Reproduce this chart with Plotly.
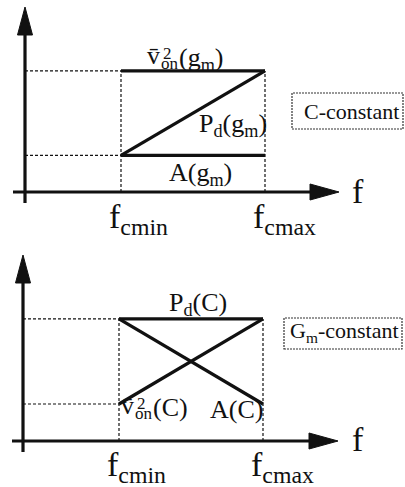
import plotly.graph_objects as go

W, H = 405, 487

# Frequency values (arbitrary units): f_cmin and f_cmax
f_bounds = [2.0, 5.0]
f_tick_labels = ["f<sub>cmin</sub>", "f<sub>cmax</sub>"]

# Normalised levels of the quantities
level_low, level_high = 1.0, 3.3

# C-constant design: noise flat, power rising, area flat
c_noise = [level_high, level_high]
c_power = [level_low, level_high]
c_area = [level_low, level_low]

# Gm-constant design: power flat, noise rising, area falling
g_power = [level_high, level_high]
g_noise = [level_low, level_high]
g_area = [level_high, level_low]

FONT = "Liberation Serif, Times New Roman, serif"
INK = "#111111"

# Panel geometry in pixels: vertical band, axis origin and scale
panels = [
    dict(top=0, bottom=240, ox=25, sx=48.0, oy=192, sy=36.7,
         x_tail=13, x_tip=339, y_tail=203, y_tip=7),
    dict(top=240, bottom=487, ox=23, sx=48.0, oy=441, sy=37.0,
         x_tail=12, x_tip=338, y_tail=452, y_tip=255),
]


def dx(p, px):
    return (px - p["ox"]) / p["sx"]


def dy(p, py):
    return (p["oy"] - py) / p["sy"]


fig = go.Figure()
layout_axes = {}
shapes = []
annotations = []

for i, p in enumerate(panels):
    n = "" if i == 0 else str(i + 1)
    xa, ya = "x" + n, "y" + n
    layout_axes["xaxis" + n] = dict(
        domain=[0, 1], anchor=ya, visible=False, fixedrange=True,
        range=[dx(p, 0), dx(p, W)])
    layout_axes["yaxis" + n] = dict(
        domain=[1 - p["bottom"] / H, 1 - p["top"] / H], anchor=xa,
        visible=False, fixedrange=True,
        range=[dy(p, p["bottom"]), dy(p, p["top"])])

    guide = dict(color=INK, width=1.2, dash="3px,2px")
    # horizontal projections to the vertical axis
    for lv in (level_low, level_high):
        fig.add_trace(go.Scatter(x=[0, f_bounds[0]], y=[lv, lv], mode="lines",
                                 line=guide, xaxis=xa, yaxis=ya,
                                 hoverinfo="skip", showlegend=False))
    # vertical projections to the frequency axis
    for fv in f_bounds:
        fig.add_trace(go.Scatter(x=[fv, fv], y=[0, level_high], mode="lines",
                                 line=guide, xaxis=xa, yaxis=ya,
                                 hoverinfo="skip", showlegend=False))

    series = [c_noise, c_power, c_area] if i == 0 else [g_power, g_noise, g_area]
    for ys in series:
        fig.add_trace(go.Scatter(x=f_bounds, y=ys, mode="lines",
                                 line=dict(color=INK, width=3.2),
                                 xaxis=xa, yaxis=ya,
                                 hoverinfo="skip", showlegend=False))

    # axes with filled arrowheads
    axis_line = dict(color=INK, width=3.2)
    shapes.append(dict(type="line", xref=xa, yref=ya, layer="above",
                       x0=dx(p, p["x_tail"]), x1=dx(p, p["x_tip"] - 20),
                       y0=0, y1=0, line=axis_line))
    shapes.append(dict(type="line", xref=xa, yref=ya, layer="above",
                       x0=0, x1=0, y0=dy(p, p["y_tail"]),
                       y1=dy(p, p["y_tip"] + 20), line=axis_line))
    shapes.append(dict(type="path", xref=xa, yref=ya, layer="above",
                       xsizemode="pixel", ysizemode="pixel",
                       xanchor=dx(p, p["x_tip"]), yanchor=0,
                       path="M 0 0 L -29 8 L -29 -8 Z",
                       fillcolor=INK, line=dict(color=INK, width=1)))
    shapes.append(dict(type="path", xref=xa, yref=ya, layer="above",
                       xsizemode="pixel", ysizemode="pixel",
                       xanchor=0, yanchor=dy(p, p["y_tip"]),
                       path="M 0 0 L -7.5 -28 L 7.5 -28 Z",
                       fillcolor=INK, line=dict(color=INK, width=1)))


def label(i, text, px, baseline, size):
    """Place text with its left edge at px and its baseline at the given pixel row."""
    p = panels[i]
    n = "" if i == 0 else str(i + 1)
    top = baseline - 0.891 * size - 1
    annotations.append(dict(
        xref="x" + n, yref="y" + n, x=dx(p, px), y=dy(p, top),
        xanchor="left", yanchor="top", showarrow=False, text=text,
        font=dict(family=FONT, size=size, color=INK)))


def noise_label(i, px, baseline, arg):
    """v-bar squared with 'on' subscript stacked under the exponent."""
    label(i, "v\u0304", px, baseline, 26)
    label(i, "2", px + 16, baseline - 5, 17)
    label(i, "on", px + 14, baseline + 5, 17)
    label(i, arg, px + 32, baseline + 2, 26)


# C-constant panel
noise_label(0, 145, 63, "(g<sub>m</sub>)")
label(0, "P<sub>d</sub>(g<sub>m</sub>)", 197, 131, 26)
label(0, "A(g<sub>m</sub>)", 167, 180, 26)
label(0, "f", 350, 202, 34)
for fv, t in zip(f_bounds, f_tick_labels):
    label(0, t, panels[0]["ox"] + fv * panels[0]["sx"] - 14, 227, 34)

# Gm-constant panel
label(1, "P<sub>d</sub>(C)", 167, 310, 26)
noise_label(1, 119, 413, "(C)")
label(1, "A(C)", 208, 417, 26)
label(1, "f", 350, 450, 34)
for fv, t in zip(f_bounds, f_tick_labels):
    label(1, t, panels[1]["ox"] + fv * panels[1]["sx"] - 14, 475, 34)

# Boxes naming the design constraint
boxes = [
    ("C-constant", 292, 403, 93, 129, 302, 118, 22),
    ("G<sub>m</sub>-constant", 284, 402, 318, 349, 288, 337, 22),
]
for text, x0, x1, y0, y1, tx, tb, size in boxes:
    shapes.append(dict(type="rect", xref="paper", yref="paper",
                       x0=x0 / W, x1=x1 / W, y0=1 - y1 / H, y1=1 - y0 / H,
                       line=dict(color="#333333", width=1.2, dash="2px,1px")))
    annotations.append(dict(
        xref="paper", yref="paper", x=tx / W, y=1 - (tb - 0.891 * size - 1) / H,
        xanchor="left", yanchor="top", showarrow=False, text=text,
        font=dict(family=FONT, size=size, color=INK)))

fig.update_layout(
    width=W, height=H,
    margin=dict(l=0, r=0, t=0, b=0),
    paper_bgcolor="white", plot_bgcolor="white",
    showlegend=False,
    shapes=shapes, annotations=annotations,
    **layout_axes,
)

fig.write_html("out.html", config={"displayModeBar": False})
